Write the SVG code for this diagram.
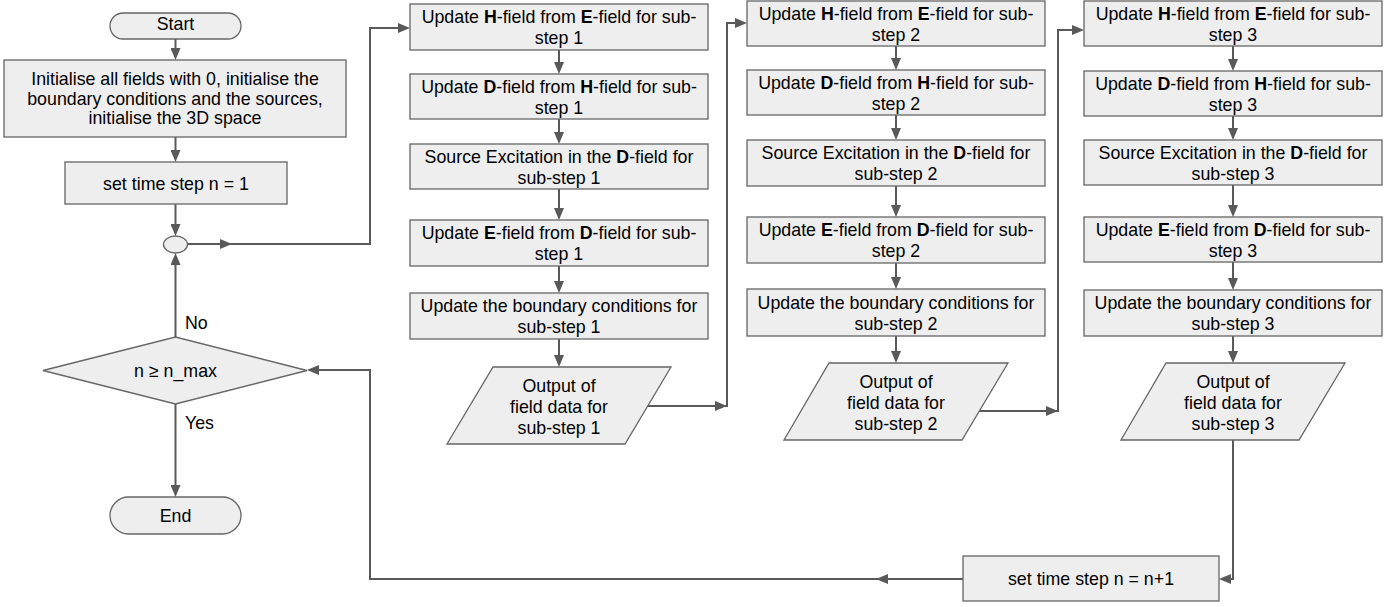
<svg xmlns="http://www.w3.org/2000/svg" width="1395" height="607" viewBox="0 0 1395 607">
<style>
.box{fill:#eeeeee;stroke:#666666;stroke-width:1.3}
.t{font-family:"Liberation Sans",Arial,sans-serif;font-size:17.8px;fill:#000;text-anchor:middle}
.b{font-weight:bold}
.c{fill:none;stroke:#595959;stroke-width:2}
.ah{fill:#595959}
</style>
<defs>
<marker id="arr" markerUnits="userSpaceOnUse" markerWidth="12" markerHeight="10" refX="0" refY="5" orient="auto">
<path d="M0,0 L12,5 L0,10 z" fill="#595959"/>
</marker>
</defs>
<rect width="1395" height="607" fill="#ffffff"/>

<g id="connectors">
<path class="c" d="M175.5,39 V48" marker-end="url(#arr)"/>
<path class="c" d="M175.5,137 V150" marker-end="url(#arr)"/>
<path class="c" d="M175.5,204 V224" marker-end="url(#arr)"/>
<path class="c" d="M187,244 H370 V28 H398" marker-end="url(#arr)"/>
<polygon class="ah" points="220,239 232,244 220,249"/>
<path class="c" d="M175.5,337 V265" marker-end="url(#arr)"/>
<path class="c" d="M175.5,404 V485" marker-end="url(#arr)"/>
<!-- column 1 -->
<path class="c" d="M559,50 V62" marker-end="url(#arr)"/>
<path class="c" d="M559,119 V132" marker-end="url(#arr)"/>
<path class="c" d="M559,189 V208" marker-end="url(#arr)"/>
<path class="c" d="M559,266 V281" marker-end="url(#arr)"/>
<path class="c" d="M559,339 V355" marker-end="url(#arr)"/>
<path class="c" d="M648,406 H727 V23 H735" marker-end="url(#arr)"/>
<polygon class="ah" points="715,401 727,406 715,411"/>
<!-- column 2 -->
<path class="c" d="M896,46 V58" marker-end="url(#arr)"/>
<path class="c" d="M896,115 V128" marker-end="url(#arr)"/>
<path class="c" d="M896,186 V205" marker-end="url(#arr)"/>
<path class="c" d="M896,263 V277" marker-end="url(#arr)"/>
<path class="c" d="M896,336 V351" marker-end="url(#arr)"/>
<path class="c" d="M979,411 H1058 V30 H1072" marker-end="url(#arr)"/>
<polygon class="ah" points="1046,406 1058,411 1046,416"/>
<!-- column 3 -->
<path class="c" d="M1233,46 V59" marker-end="url(#arr)"/>
<path class="c" d="M1233,116 V128" marker-end="url(#arr)"/>
<path class="c" d="M1233,185 V205" marker-end="url(#arr)"/>
<path class="c" d="M1233,262 V278" marker-end="url(#arr)"/>
<path class="c" d="M1233,336 V351" marker-end="url(#arr)"/>
<path class="c" d="M1233,440 V579 H1231" marker-end="url(#arr)"/>
<!-- loop back -->
<path class="c" d="M963,579 H370 V370 H319" marker-end="url(#arr)"/>
<polygon class="ah" points="888,574 876,579 888,584"/>
</g>

<g id="start">
<rect class="box" x="110" y="13" width="131" height="26" rx="13" ry="13"/>
<text class="t" x="175.5" y="30">Start</text>
</g>
<g id="init">
<rect class="box" x="4" y="60" width="342" height="77"/>
<text class="t" x="175" y="85">Initialise all fields with 0, initialise the</text>
<text class="t" x="175" y="104.5">boundary conditions and the sources,</text>
<text class="t" x="175" y="124">initialise the 3D space</text>
</g>
<g id="set1">
<rect class="box" x="65" y="162" width="222" height="42"/>
<text class="t" x="176" y="189.5">set time step n = 1</text>
</g>
<g id="junction">
<ellipse class="box" cx="175.5" cy="244.5" rx="12" ry="8.5"/>
</g>
<g id="decision">
<polygon class="box" points="43,370.5 175.5,337 307,370.5 175.5,404"/>
<text class="t" x="175.5" y="377">n ≥ n_max</text>
<text class="t" x="185" y="328.5" style="text-anchor:start">No</text>
<text class="t" x="185" y="429" style="text-anchor:start">Yes</text>
</g>
<g id="end">
<rect class="box" x="110" y="497" width="131" height="37" rx="18.5" ry="18.5"/>
<text class="t" x="175.5" y="522">End</text>
</g>

<!-- column 1 -->
<g id="c1b1">
<rect class="box" x="410" y="4" width="298" height="46"/>
<text class="t" x="559" y="23">Update <tspan class="b">H</tspan>-field from <tspan class="b">E</tspan>-field for sub-</text>
<text class="t" x="559" y="44">step 1</text>
</g>
<g id="c1b2">
<rect class="box" x="410" y="74" width="298" height="45"/>
<text class="t" x="559" y="92.5">Update <tspan class="b">D</tspan>-field from <tspan class="b">H</tspan>-field for sub-</text>
<text class="t" x="559" y="113.5">step 1</text>
</g>
<g id="c1b3">
<rect class="box" x="410" y="144" width="298" height="45"/>
<text class="t" x="559" y="162.5">Source Excitation in the <tspan class="b">D</tspan>-field for</text>
<text class="t" x="559" y="183.5">sub-step 1</text>
</g>
<g id="c1b4">
<rect class="box" x="410" y="220" width="298" height="46"/>
<text class="t" x="559" y="239">Update <tspan class="b">E</tspan>-field from <tspan class="b">D</tspan>-field for sub-</text>
<text class="t" x="559" y="260">step 1</text>
</g>
<g id="c1b5">
<rect class="box" x="410" y="293" width="298" height="46"/>
<text class="t" x="559" y="312">Update the boundary conditions for</text>
<text class="t" x="559" y="333">sub-step 1</text>
</g>
<g id="c1out">
<polygon class="box" points="493,367 671,367 625,444 447,444"/>
<text class="t" x="559" y="392">Output of</text>
<text class="t" x="559" y="413">field data for</text>
<text class="t" x="559" y="434">sub-step 1</text>
</g>

<!-- column 2 -->
<g id="c2b1">
<rect class="box" x="747" y="1" width="298" height="45"/>
<text class="t" x="896" y="19.5">Update <tspan class="b">H</tspan>-field from <tspan class="b">E</tspan>-field for sub-</text>
<text class="t" x="896" y="40.5">step 2</text>
</g>
<g id="c2b2">
<rect class="box" x="747" y="70" width="298" height="45"/>
<text class="t" x="896" y="88.5">Update <tspan class="b">D</tspan>-field from <tspan class="b">H</tspan>-field for sub-</text>
<text class="t" x="896" y="109.5">step 2</text>
</g>
<g id="c2b3">
<rect class="box" x="747" y="140" width="298" height="46"/>
<text class="t" x="896" y="159">Source Excitation in the <tspan class="b">D</tspan>-field for</text>
<text class="t" x="896" y="180">sub-step 2</text>
</g>
<g id="c2b4">
<rect class="box" x="747" y="217" width="298" height="46"/>
<text class="t" x="896" y="236">Update <tspan class="b">E</tspan>-field from <tspan class="b">D</tspan>-field for sub-</text>
<text class="t" x="896" y="257">step 2</text>
</g>
<g id="c2b5">
<rect class="box" x="747" y="289" width="298" height="47"/>
<text class="t" x="896" y="308.5">Update the boundary conditions for</text>
<text class="t" x="896" y="329.5">sub-step 2</text>
</g>
<g id="c2out">
<polygon class="box" points="829,363 1008,363 962,440 784,440"/>
<text class="t" x="896" y="388">Output of</text>
<text class="t" x="896" y="409">field data for</text>
<text class="t" x="896" y="430">sub-step 2</text>
</g>

<!-- column 3 -->
<g id="c3b1">
<rect class="box" x="1084" y="1" width="298" height="45"/>
<text class="t" x="1233" y="19.5">Update <tspan class="b">H</tspan>-field from <tspan class="b">E</tspan>-field for sub-</text>
<text class="t" x="1233" y="40.5">step 3</text>
</g>
<g id="c3b2">
<rect class="box" x="1084" y="71" width="298" height="45"/>
<text class="t" x="1233" y="89.5">Update <tspan class="b">D</tspan>-field from <tspan class="b">H</tspan>-field for sub-</text>
<text class="t" x="1233" y="110.5">step 3</text>
</g>
<g id="c3b3">
<rect class="box" x="1084" y="140" width="298" height="45"/>
<text class="t" x="1233" y="158.5">Source Excitation in the <tspan class="b">D</tspan>-field for</text>
<text class="t" x="1233" y="179.5">sub-step 3</text>
</g>
<g id="c3b4">
<rect class="box" x="1084" y="217" width="298" height="45"/>
<text class="t" x="1233" y="235.5">Update <tspan class="b">E</tspan>-field from <tspan class="b">D</tspan>-field for sub-</text>
<text class="t" x="1233" y="256.5">step 3</text>
</g>
<g id="c3b5">
<rect class="box" x="1084" y="290" width="298" height="46"/>
<text class="t" x="1233" y="309">Update the boundary conditions for</text>
<text class="t" x="1233" y="330">sub-step 3</text>
</g>
<g id="c3out">
<polygon class="box" points="1166,363 1345,363 1299,440 1121,440"/>
<text class="t" x="1233" y="388">Output of</text>
<text class="t" x="1233" y="409">field data for</text>
<text class="t" x="1233" y="430">sub-step 3</text>
</g>

<g id="setn1">
<rect class="box" x="963" y="556" width="256" height="45"/>
<text class="t" x="1091" y="585">set time step n = n+1</text>
</g>
</svg>
